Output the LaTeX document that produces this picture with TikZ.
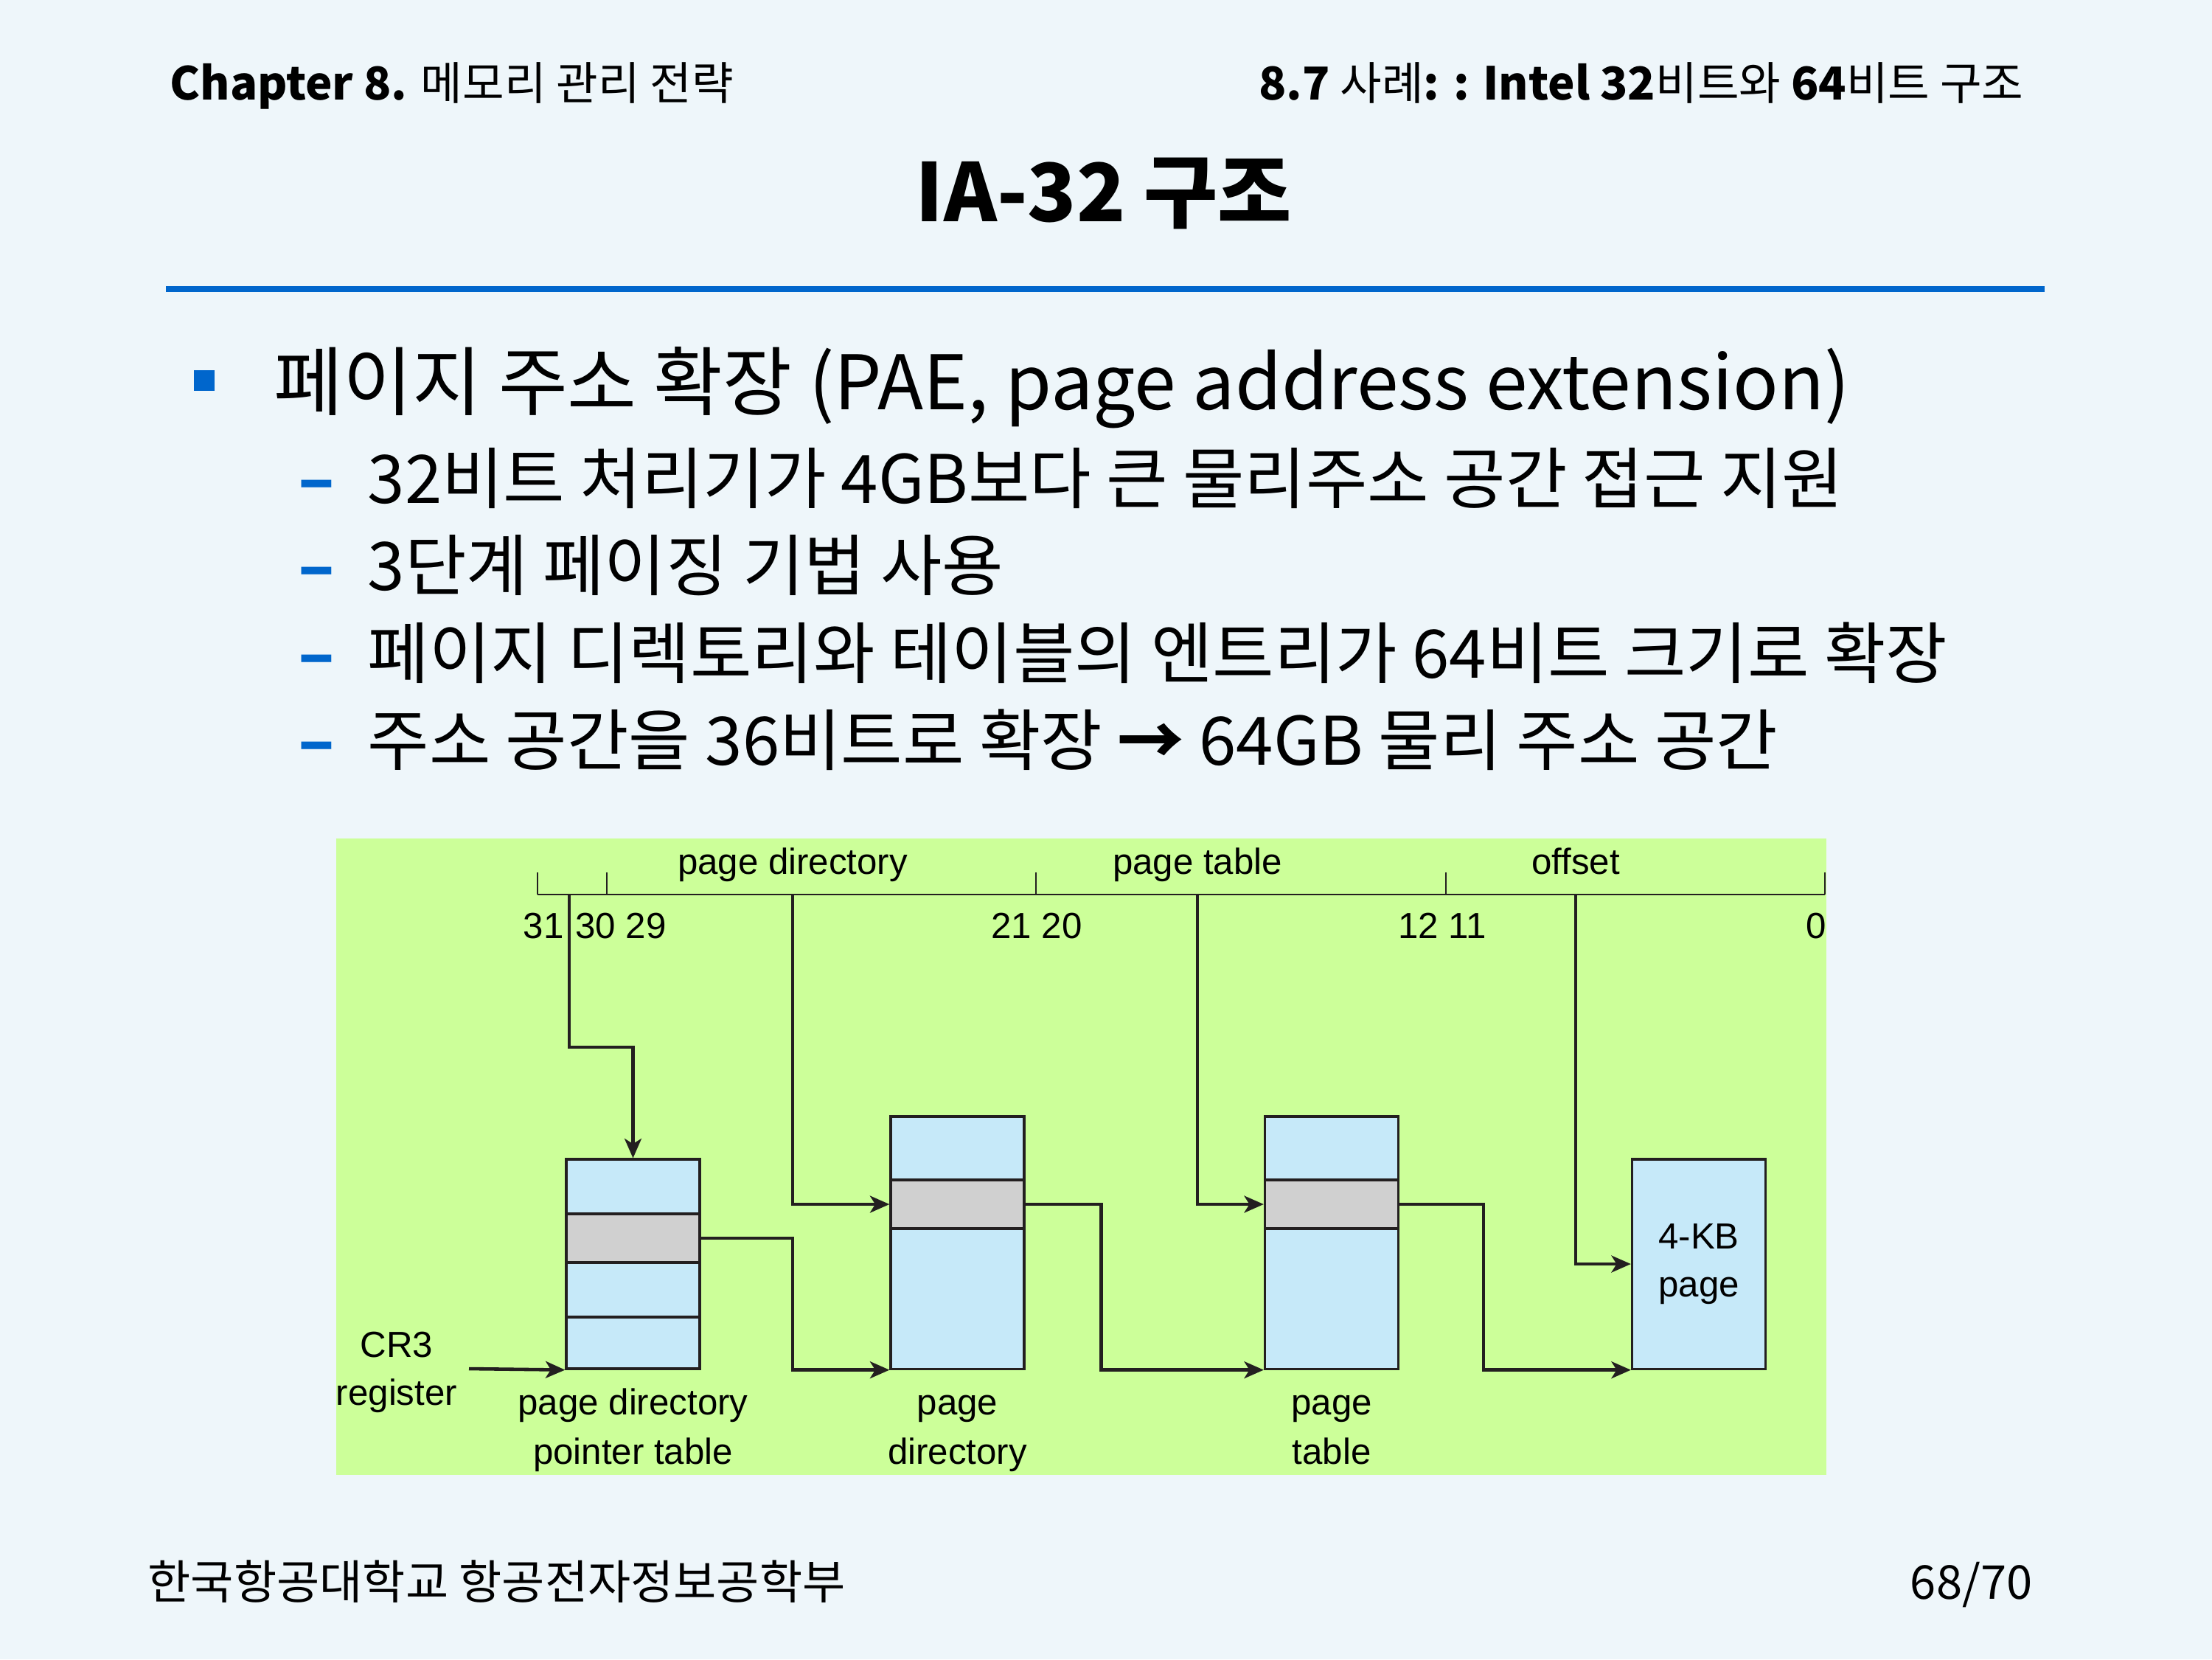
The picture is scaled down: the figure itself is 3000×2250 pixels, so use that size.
\documentclass[tikz,border=0pt]{standalone}
\usepackage{fontspec}
\setmainfont{Noto Sans CJK KR}
\newfontfamily\diagfont{Liberation Sans}
\usetikzlibrary{positioning}
\usetikzlibrary{arrows.meta}
\definecolor{slidebg}{HTML}{EEF6FA}
\definecolor{slideblue}{HTML}{0066CC}
\definecolor{panelgreen}{HTML}{CCFF99}
\definecolor{cellblue}{HTML}{C6E9F9}
\definecolor{cellgray}{HTML}{D0D0D0}
\definecolor{inkline}{HTML}{231F20}
\tikzset{
    hdrtxt/.style = {inner sep=0, font=\fontsize{17.5}{21}\selectfont, text=black},
    titletxt/.style = {inner sep=0, anchor=base, font=\bfseries\fontsize{31}{37}\selectfont, text=black},
    itemtxt/.style = {inner sep=0, anchor=base west, font=\fontsize{29}{34}\selectfont, text=black},
    subtxt/.style = {inner sep=0, anchor=base west, font=\fontsize{25.8}{30}\selectfont, text=black},
    subdash/.style = {inner sep=0, anchor=base west, font=\bfseries\fontsize{25.8}{30}\selectfont, text=slideblue},
    foottxt/.style = {inner sep=0, font=\fontsize{18}{21}\selectfont, text=black},
    lbltxt/.style = {inner sep=0, anchor=base, font=\diagfont\fontsize{14}{18.5}\selectfont, text=black},
    cellb/.style = {rectangle, draw=inkline, line width=0.9pt, fill=cellblue, inner sep=0, minimum width=1.81cm},
    cellg/.style = {rectangle, draw=inkline, line width=0.9pt, fill=cellgray, inner sep=0, minimum width=1.81cm},
    edgen/.style = {-, line width=1.3pt, draw=inkline},
    edgea/.style = {-{Stealth[length=7.5pt,width=6.5pt,inset=2pt]}, line width=1.3pt, draw=inkline},
    edgef/.style = {-, line width=0.8pt, draw=inkline},
    edget/.style = {-, line width=0.6pt, draw=inkline}
}

\begin{document}
\begin{tikzpicture}[x=0.01cm, y=-0.01cm]
\useasboundingbox (0,0) rectangle (3000,2250);
\fill[slidebg] (0,0) rectangle (3000,2250);
%
\node[hdrtxt, anchor=base west] at (230,135) (hdrl) {\textbf{Chapter 8.} 메모리 관리 전략};
\node[hdrtxt, anchor=base east] at (2745,135) (hdrr) {\textbf{8.7} 사례\textbf{: :} \textbf{Intel 32}비트와 \textbf{64}비트 구조};
\node[titletxt] at (1497,300) (title) {IA-32 구조};
\draw[slideblue, line width=2.3pt] (225,392) -- (2773,392);
%
\node[fill=slideblue, minimum size=0.28cm, inner sep=0] at (277,516) (bul) {};
\node[itemtxt] at (371,555) (item) {페이지 주소 확장 (PAE, page address extension)};
\node[subdash] at (404,682) (dsha) {–};
\node[subtxt] at (498,682) (suba) {32비트 처리기가 4GB보다 큰 물리주소 공간 접근 지원};
\node[subdash] at (404,800) (dshb) {–};
\node[subtxt] at (498,800) (subb) {3단계 페이징 기법 사용};
\node[subdash] at (404,919) (dshc) {–};
\node[subtxt] at (498,919) (subc) {페이지 디렉토리와 테이블의 엔트리가 64비트 크기로 확장};
\node[subdash] at (404,1037) (dshd) {–};
\node[subtxt] at (498,1037) (subd) {주소 공간을 36비트로 확장 \textbf{→} 64GB 물리 주소 공간};
%
\fill[panelgreen] (456,1137) rectangle (2477,2000);
\coordinate (b31) at (729,1213);
\coordinate (b0) at (2475,1213);
\draw[edgef] (b31) -- (b0);
\foreach \bx in {729,823,1405,1961,2475} \draw[edget] (\bx,1213) -- (\bx,1183);
\coordinate (selidx) at (772,1213);
\coordinate (diridx) at (1075,1213);
\coordinate (tblidx) at (1624,1213);
\coordinate (offidx) at (2137,1213);
\node[lbltxt] at (1075,1185) (fdir) {page directory};
\node[lbltxt] at (1624,1185) (ftbl) {page table};
\node[lbltxt] at (2137,1185) (foff) {offset};
\node[lbltxt] at (737,1272) (n31) {31};
\node[lbltxt] at (842,1272) (n30) {30 29};
\node[lbltxt] at (1406,1272) (n21) {21 20};
\node[lbltxt] at (1956,1272) (n12) {12 11};
\node[lbltxt, anchor=base east] at (2478,1272) (n0) {0};
%
\node[cellb, minimum height=0.74cm] at (858.5,1609) (pdpt1) {};
\node[cellg, minimum height=0.66cm] at (858.5,1679) (pdpt2) {};
\node[cellb, minimum height=0.74cm] at (858.5,1749) (pdpt3) {};
\node[cellb, minimum height=0.70cm] at (858.5,1821) (pdpt4) {};
\node[cellb, minimum height=0.86cm] at (1298.5,1557) (pd1) {};
\node[cellg, minimum height=0.66cm] at (1298.5,1633) (pd2) {};
\node[cellb, minimum height=1.90cm] at (1298.5,1761) (pd3) {};
\node[cellb, minimum height=0.86cm] at (1806,1557) (pt1) {};
\node[cellg, minimum height=0.66cm] at (1806,1633) (pt2) {};
\node[cellb, minimum height=1.90cm] at (1806,1761) (pt3) {};
\node[cellb, minimum height=2.84cm, align=center, font=\diagfont\fontsize{14}{18.5}\selectfont] at (2304,1714) (page) {4-KB\\page};
%
\node[lbltxt] at (538,1840) (cra) {CR3};
\node[lbltxt] at (538,1905) (crb) {register};
\node[lbltxt] at (858.5,1918) (pdpta) {page directory};
\node[lbltxt] at (858.5,1985) (pdptb) {pointer table};
\node[lbltxt] at (1298.5,1918) (pda) {page};
\node[lbltxt] at (1298.5,1985) (pdb) {directory};
\node[lbltxt] at (1806,1918) (pta) {page};
\node[lbltxt] at (1806,1985) (ptb) {table};
\coordinate (cr3) at (636,1856);
%
\draw[edgea] (cr3) -- (pdpt4.south west);
\draw[edgea] (selidx) -- ++(0,207) -| (pdpt1.north);
\draw[edgea] (diridx) |- (pd2.west);
\draw[edgea] (tblidx) |- (pt2.west);
\draw[edgea] (offidx) |- (page.west);
\draw[edgea] (pdpt2.east) -- (pdpt2.east -| diridx) |- (pd3.south west);
\draw[edgea] (pd2.east) -- ++(103,0) |- (pt3.south west);
\draw[edgea] (pt2.east) -- ++(114,0) |- (page.south west);
%
\node[foottxt, anchor=base west] at (200,2168) (footl) {한국항공대학교 항공전자정보공학부};
\node[foottxt, anchor=base east] at (2757,2168) (footr) {68/70};
\end{tikzpicture}
\end{document}
